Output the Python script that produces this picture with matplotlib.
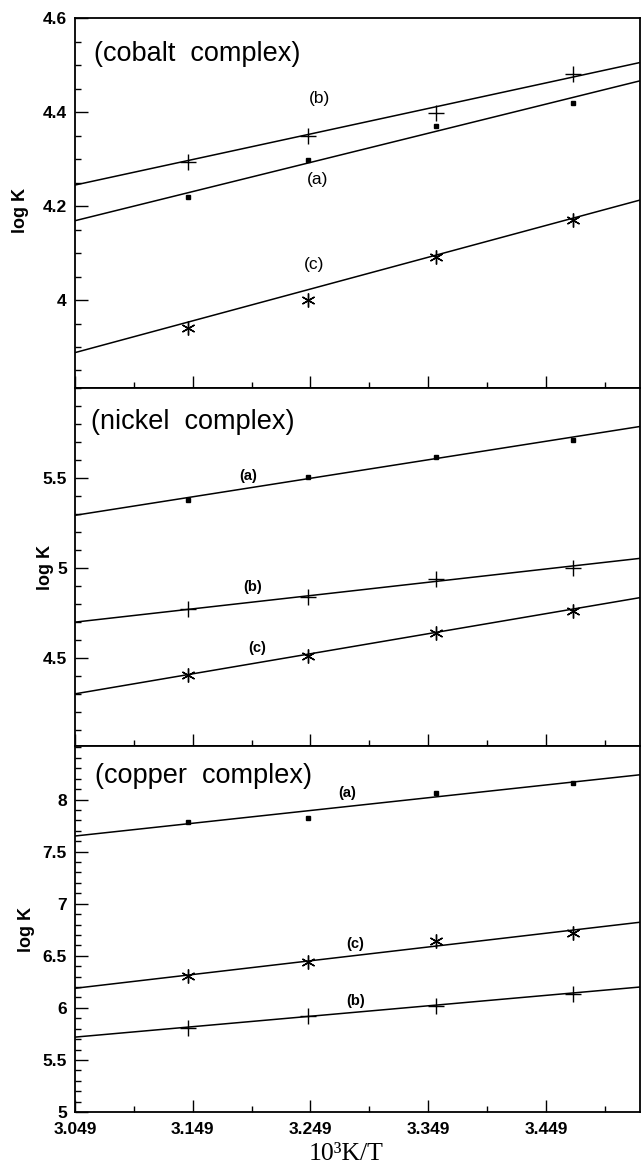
import matplotlib.pyplot as plt
from matplotlib.ticker import MultipleLocator, FormatStrFormatter

plt.rcParams['font.family'] = ['Liberation Sans', 'DejaVu Sans']

# 10^3/T for the four temperatures used
inv_t = [3.145, 3.247, 3.356, 3.472]
x_lim = [3.049, 3.529]
x_ticks = [3.049, 3.149, 3.249, 3.349, 3.449]
x_minor = [3.099, 3.199, 3.299, 3.399, 3.499]
x_tick_labels = ['3.049', '3.149', '3.249', '3.349', '3.449']

# cobalt complex
co_a = [4.219, 4.298, 4.371, 4.420]
co_b = [4.295, 4.349, 4.398, 4.481]
co_c = [3.940, 4.000, 4.091, 4.170]
co_fit_a = [4.169, 4.467]   # fitted line at x_lim ends
co_fit_b = [4.245, 4.506]
co_fit_c = [3.888, 4.213]

# nickel complex
ni_a = [5.376, 5.506, 5.617, 5.711]
ni_b = [4.771, 4.841, 4.941, 5.002]
ni_c = [4.404, 4.513, 4.642, 4.761]
ni_fit_a = [5.293, 5.786]
ni_fit_b = [4.700, 5.054]
ni_fit_c = [4.302, 4.836]

# copper complex
cu_a = [7.787, 7.822, 8.063, 8.156]
cu_b = [5.806, 5.922, 6.015, 6.131]
cu_c = [6.306, 6.437, 6.641, 6.719]
cu_fit_a = [7.650, 8.238]
cu_fit_b = [5.719, 6.200]
cu_fit_c = [6.188, 6.822]

asterisk = (6, 2, 0)

fig = plt.figure(figsize=(6.44, 11.72), dpi=100)
left, width = 0.1165, 0.8773
ax_co = fig.add_axes([left, 0.6689, width, 0.3154])
ax_ni = fig.add_axes([left, 0.3631, width, 0.3059])
ax_cu = fig.add_axes([left, 0.0512, width, 0.3119])


def draw(ax, a, b, c, fa, fb, fc):
    ax.plot(x_lim, fa, color='black', lw=1.1)
    ax.plot(x_lim, fb, color='black', lw=1.1)
    ax.plot(x_lim, fc, color='black', lw=1.1)
    ax.plot(inv_t, a, ls='none', marker='s', ms=3.5, color='black')
    ax.plot(inv_t, b, ls='none', marker='+', ms=12, mew=1.0, color='black')
    ax.plot(inv_t, c, ls='none', marker=asterisk, ms=10, mew=1.0, color='black')


draw(ax_co, co_a, co_b, co_c, co_fit_a, co_fit_b, co_fit_c)
draw(ax_ni, ni_a, ni_b, ni_c, ni_fit_a, ni_fit_b, ni_fit_c)
draw(ax_cu, cu_a, cu_b, cu_c, cu_fit_a, cu_fit_b, cu_fit_c)

ax_co.set_ylim(3.8125, 4.6)
ax_co.set_yticks([4.0, 4.2, 4.4, 4.6])
ax_co.yaxis.set_minor_locator(MultipleLocator(0.05))

ax_ni.set_ylim(4.01, 6.0)
ax_ni.set_yticks([4.5, 5.0, 5.5])
ax_ni.yaxis.set_minor_locator(MultipleLocator(0.1))

ax_cu.set_ylim(5.0, 8.51)
ax_cu.set_yticks([5, 5.5, 6, 6.5, 7, 7.5, 8])
ax_cu.yaxis.set_minor_locator(MultipleLocator(0.1))

for ax in (ax_co, ax_ni, ax_cu):
    ax.set_xlim(x_lim)
    ax.set_xticks(x_ticks)
    ax.set_xticklabels(x_tick_labels)
    ax.set_xticks(x_minor, minor=True)
    ax.yaxis.set_major_formatter(FormatStrFormatter('%g'))
    ax.tick_params(which='both', direction='in', top=False, right=False,
                   width=1.0, labelsize=12.5, pad=6)
    ax.tick_params(which='major', length=9)
    ax.tick_params(which='minor', length=4.5)
    for sp in ax.spines.values():
        sp.set_linewidth(1.3)
    for lbl in ax.get_yticklabels() + ax.get_xticklabels():
        lbl.set_fontweight('bold')
    ax.set_ylabel('log K', fontsize=13, fontweight='bold')

ax_co.tick_params(labelbottom=False)
ax_ni.tick_params(labelbottom=False)
ax_co.yaxis.set_label_coords(-0.082, 0.48)
ax_ni.yaxis.set_label_coords(-0.038, 0.50)
ax_cu.yaxis.set_label_coords(-0.070, 0.50)

ax_cu.set_xlabel('10³K/T', fontsize=18.5, family=['Liberation Serif', 'DejaVu Serif'])
ax_cu.tick_params(axis='x', pad=7.5)
ax_cu.xaxis.set_label_coords(0.48, -0.0845)

# panel titles
ax_co.text(0.033, 0.905, '(cobalt  complex)', transform=ax_co.transAxes,
           fontsize=19.5, va='center')
ax_ni.text(0.028, 0.905, '(nickel  complex)', transform=ax_ni.transAxes,
           fontsize=19.5, va='center')
ax_cu.text(0.035, 0.92, '(copper  complex)', transform=ax_cu.transAxes,
           fontsize=19.5, va='center')

# curve labels
ax_co.text(3.257, 4.430, '(b)', fontsize=12.5, ha='center', va='center')
ax_co.text(3.255, 4.256, '(a)', fontsize=12.5, ha='center', va='center')
ax_co.text(3.252, 4.075, '(c)', fontsize=12.5, ha='center', va='center')

ax_ni.text(3.196, 5.511, '(a)', fontsize=10.5, fontweight='bold', ha='center', va='center')
ax_ni.text(3.200, 4.893, '(b)', fontsize=10.5, fontweight='bold', ha='center', va='center')
ax_ni.text(3.204, 4.554, '(c)', fontsize=10.5, fontweight='bold', ha='center', va='center')

ax_cu.text(3.280, 8.063, '(a)', fontsize=10.5, fontweight='bold', ha='center', va='center')
ax_cu.text(3.287, 6.610, '(c)', fontsize=10.5, fontweight='bold', ha='center', va='center')
ax_cu.text(3.287, 6.062, '(b)', fontsize=10.5, fontweight='bold', ha='center', va='center')

fig.savefig('out.png', dpi=100)
